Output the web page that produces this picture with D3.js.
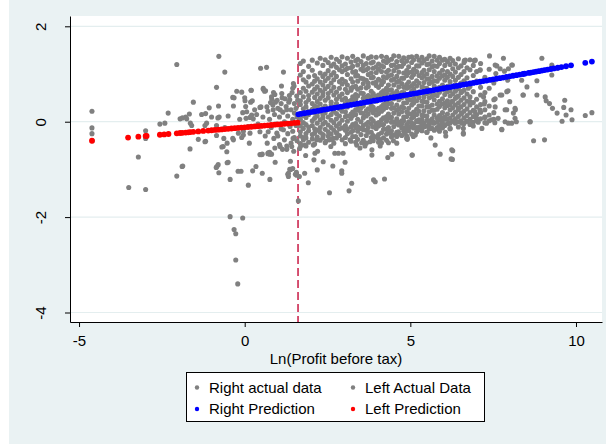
<!DOCTYPE html>
<html><head><meta charset="utf-8">
<script src="https://cdn.jsdelivr.net/npm/d3@7"></script>
<style>body{margin:0;background:#fff}svg{display:block}</style>
</head><body><svg id="c" width="606" height="444"></svg>
<script>
const xTicks=[-5,0,5,10];
const yTicks=[-4,-2,0,2];
const xTitle="Ln(Profit before tax)";
const cutoff=1.61;
const legendLabels=["Right actual data","Left Actual Data","Right Prediction","Left Prediction"];

// Left actual data (x < cutoff)
const leftActual=[
[-4.61,0.22],[-4.61,-0.13],[-4.61,-0.25],[-4.6,-0.40],
[-3.50,-1.38],[-3.21,-0.74],[-2.99,-0.19],[-2.99,-0.35],[-2.99,-1.42],
[-2.56,-0.05],[-2.41,-0.03],[-2.31,0.18],
[-2.05,1.20],[-2.05,-1.14],[-1.89,-0.94],[-1.88,0.08],[-1.78,0.10],[-1.67,0.16],[-1.64,-0.03],[-1.65,-0.57],[-1.55,0.41],[-1.40,-0.37],[-1.95,0.06],[-1.75,0.06],
[-1.18,0.17],[-1.15,-0.03],[-1.07,0.29],[-1.18,-0.41],[-1.2,-0.42],[-0.85,0.72],[-0.78,1.37],[-0.60,1.04],[-0.79,0.33],[-0.81,0.08],[-0.77,0.10],[-0.85,-0.29],[-0.63,-0.35],[-0.69,-0.53],[-0.53,-0.45],[-0.54,-0.63],[-0.36,-0.35],
[-0.84,-0.94],[-0.86,-0.96],[-0.80,-0.90],[-0.78,-1.07],[-0.53,-0.86],[-0.50,-0.85],[-0.44,-1.21],
[-0.32,0.50],[-0.24,0.64],[-0.09,0.62],[0.0,0.50],[0.19,0.66],[-0.34,0.33],[0.03,0.32],[-0.06,0.19],[0.04,0.07],[0.16,0.09],[0.26,0.06],[0.36,0.15],[0.46,0.30],
[0.48,1.12],[0.66,1.14],[1.17,1.04],[1.11,0.75],[1.47,0.80],[1.45,0.70],[0.56,0.68],[0.60,0.64],[0.87,0.61],[0.81,0.52],[1.13,0.50],[0.93,0.41],[1.33,0.41],[1.57,0.54],[0.23,0.44],
[-0.19,-0.24],[-0.04,-0.20],[-0.09,-0.33],[0.14,-0.45],[0.51,-0.69],[0.75,-0.64],[0.81,-0.68],[0.91,-0.55],[1.14,-0.58],[1.38,-0.83],
[-0.2,-1.04],[-0.11,-1.04],[0.11,-1.33],[0.24,-1.03],[0.34,-0.94],[0.53,-0.68],[0.53,-1.08],[0.70,-0.67],[0.76,-1.21],[0.92,-0.85],[1.32,-1.15],[1.32,-1.08],[1.39,-1.00],[1.53,-1.10],[1.45,-0.98],[1.57,-1.12],
[-0.44,-1.99],[-0.06,-2.02],[-0.32,-2.26],[-0.27,-2.35],[-0.27,-2.90],[-0.21,-3.40],[-1.87,-0.93],
[-0.36,0.51],[0.01,0.44],[0.18,0.41],[0.2,0.66],[0.56,0.70],[0.63,0.65],[0.82,0.47],[0.91,0.57],[1.12,0.59],[1.36,0.46],[1.43,0.61],[1.49,0.75],
[-1.6,-0.08],[-1.2,-0.08],[-0.85,-0.08],
[-0.65,-0.52],[-0.34,-0.38],[-0.04,-0.28],[0.16,-0.24],[0.46,-0.21],[0.71,-0.21],[0.97,-0.24],[1.17,-0.17],[1.37,-0.10],
[0.06,0.21],[0.21,0.14],[0.49,0.31],[0.67,0.31],[0.86,0.25],[1.07,0.25],[1.27,0.25],
[0.46,-0.69],[0.71,-0.65],[0.76,-0.68],[1.07,-0.52],[1.27,-0.51],[1.42,-0.52],[1.36,-1.0],[1.30,-1.1],[1.56,-1.06],
[0.7,0.22],[0.75,0.05],[0.8,-0.12],[0.85,0.35],[0.9,0.15],[0.95,-0.05],[1.0,0.28],[1.0,-0.3],[1.05,0.10],[1.1,-0.15],[1.1,0.38],[1.15,0.2],[1.2,0.0],[1.2,-0.38],[1.25,0.32],[1.3,0.12],[1.3,-0.25],[1.35,-0.05],[1.4,0.25],[1.4,-0.45],[1.45,0.05],[1.45,-0.2],[1.5,0.38],[1.5,0.18],[1.5,-0.33],[1.55,-0.08],[1.55,0.28],[1.58,0.1],[1.58,-0.4],[1.6,0.45],
[0.62,-0.3],[0.68,-0.45],[0.88,-0.35],[0.98,0.45],[1.22,0.48],[1.35,0.55],[1.05,-0.48],[0.78,0.4],[1.27,-0.58],[1.48,-0.62],[0.55,0.1],[0.4,-0.05],[0.3,0.25],[0.1,-0.1],[-0.15,0.05],[-0.5,0.12],[-0.6,-0.12],[-1.0,0.1],[-1.3,0.15],
[1.46,-0.35]
];

// Right actual data: scattered points (x > cutoff)
const rightSparse=[
[1.62,-1.66],[1.65,-1.15],[1.81,-1.08],[1.92,-1.28],[2.19,-1.01],[2.56,-1.49],[2.93,-1.03],[2.93,-1.08],[2.66,-0.93],[2.37,-0.84],[2.09,-0.80],[1.84,-0.71],[3.03,-0.85],[3.23,-1.29],[3.15,-1.45],[3.89,-1.22],[3.94,-1.26],[4.22,-1.20],[4.32,-0.75],[4.44,-0.68],[5.05,-0.70],[4.91,-0.37],[3.84,-0.59],[3.84,-0.70],[4.09,-0.51],[4.04,-0.43],[4.59,-0.45],[4.49,-0.40],[3.63,-0.51],[3.48,-0.55],[2.97,-0.66],[2.83,-0.66],[2.72,-0.66],[2.45,-0.41],[2.55,-0.38],[2.60,-0.52],[2.12,-0.66],[2.2,-0.62],[1.85,-0.51],[2.07,-0.49],[1.70,-0.50],[1.66,-0.56],[1.76,-0.33],
[4.89,-0.35],[5.09,-0.31],[4.39,-0.24],[3.88,-0.31],[4.08,-0.38],[3.38,-0.49],[3.53,-0.44],[3.18,-0.38],[2.67,-0.35],[2.78,-0.24],[2.37,-0.28],[2.17,-0.38],[3.78,-0.42],[4.34,-0.44],[4.84,-0.24],[4.64,-0.21],[1.82,-0.49],
[5.15,-0.28],[5.5,-0.22],[5.62,-0.34],[5.75,-0.49],[5.90,-0.68],[6.06,-0.22],[6.07,-0.30],[6.28,-0.61],[6.23,-0.78],[6.6,-0.26],[6.6,-0.14],[7.16,-0.14],[7.76,-0.17],[8.62,0.0],[8.72,-0.40],[9.05,-0.38],[5.85,-0.17],[5.3,-0.1],[5.45,-0.09],[4.91,-0.34],[5.06,-0.70],
[7.39,1.38],[7.81,1.33],[8.97,1.33],[6.66,1.29],[6.96,1.29],[7.11,1.09],[7.71,1.11],[7.96,1.11],[7.61,1.17],[8.08,1.19],[9.27,1.19],[9.43,1.12],[9.27,0.98],[8.82,0.86],[7.94,0.87],[8.52,0.73],[7.95,0.65],[7.71,0.56],[7.56,0.48],[7.21,0.52],[8.4,0.56],[8.82,0.56],[9.07,0.52],[9.1,0.44],[9.2,0.38],[9.66,0.45],[9.29,0.28],[9.43,0.18],[9.63,0.30],[9.85,0.25],[9.70,0.14],[9.58,0.01],[9.88,0.04],[10.28,0.13],[10.48,0.19],[8.17,0.25],[7.91,0.25],[8.2,0.0],[7.96,-0.03],[7.76,-0.16],[6.6,-0.24],[6.25,-0.59],[6.27,-0.79],
[6.63,1.28],[6.93,1.28],[7.56,1.19],[8.06,1.19],[7.1,1.08],[7.58,1.01],[7.84,1.06],[8.36,0.87],[8.41,0.56],[7.91,0.63],[7.76,0.56],[7.23,0.37],[7.1,0.25],[7.56,0.31],[7.86,0.25],[8.0,0.42],[8.16,0.28],[8.11,0.18],[6.8,0.42],[6.45,0.28],[6.55,0.18],
[6.95,0.21],[7.0,0.07],[7.25,0.10],[7.45,0.04],[7.65,0.07],[7.86,0.0],[8.06,-0.03],[8.16,0.07],[8.61,0.0],[6.65,0.8],[6.75,0.7],[6.55,0.63],[6.4,0.52],[6.25,0.42],[6.35,0.77],
[5.2,0.0],[5.35,-0.02],[5.55,0.01],[5.7,-0.03],[5.95,0.0],[6.15,-0.04],[6.35,-0.01],[6.55,-0.03],[6.7,0.01],[6.85,-0.02],[7.05,-0.01],[7.3,-0.03],[7.55,-0.02],[5.25,-0.12],[5.6,-0.13],[5.9,-0.1],[6.2,-0.14],[6.45,-0.11],[6.9,-0.09]
];

// Right actual data: dense part, listed per x column
const rightCols=[
[1.68,[1.22,0.98,0.61,0.44,0.36,0.17,0.05,-0.09,-0.21,-0.30,-0.46]],
[1.77,[1.27,1.05,0.88,0.70,0.52,0.27,0.13,-0.02,-0.14,-0.38]],
[1.85,[0.83,0.64,0.40,0.31,0.09,-0.06,-0.25,-0.34]],
[1.93,[1.16,0.94,0.75,0.55,0.46,0.22,0.15,-0.11,-0.19,-0.43]],
[2.04,[1.29,1.08,0.79,0.62,0.38,0.26,0.02,-0.08,-0.27,-0.36]],
[2.11,[0.97,0.85,0.68,0.51,0.33,0.18,0.07,-0.15,-0.24,-0.47]],
[2.19,[1.23,0.90,0.73,0.58,0.42,0.31,0.12,-0.03,-0.18,-0.32]],
[2.28,[1.33,1.02,0.83,0.66,0.49,0.37,0.21,0.04,-0.12,-0.22,-0.39]],
[2.36,[1.18,0.95,0.77,0.61,0.55,0.28,0.14,0.08,-0.05,-0.27,-0.33]],
[2.43,[1.30,1.00,0.86,0.69,0.45,0.33,0.19,-0.01,-0.16,-0.44]],
[2.52,[1.24,1.07,0.91,0.74,0.59,0.50,0.26,0.10,-0.07,-0.21,-0.30]],
[2.61,[1.35,1.17,0.98,0.81,0.65,0.41,0.35,0.15,0.03,-0.12,-0.26,-0.37]],
[2.69,[1.21,1.03,0.88,0.72,0.56,0.30,0.22,-0.02,-0.18,-0.45]],
[2.77,[1.31,1.14,0.95,0.62,0.47,0.38,0.17,0.06,-0.09,-0.23,-0.34]],
[2.86,[1.26,1.09,0.84,0.70,0.53,0.27,0.12,-0.04,-0.15,-0.29]],
[2.94,[1.36,1.17,1.05,0.89,0.79,0.58,0.46,0.29,0.22,0.03,-0.13,-0.38]],
[3.04,[1.21,1.09,0.84,0.68,0.49,0.38,0.21,0.11,-0.08,-0.18,-0.33,-0.46]],
[3.10,[1.33,1.12,0.99,0.77,0.61,0.43,0.31,0.12,0.01,-0.15,-0.25]],
[3.21,[1.25,1.13,0.90,0.70,0.66,0.45,0.36,0.16,0.07,-0.11,-0.22,-0.41]],
[3.26,[1.37,1.16,1.04,0.83,0.72,0.52,0.41,0.20,0.13,-0.06,-0.19,-0.31]],
[3.35,[1.28,1.05,0.96,0.74,0.57,0.47,0.25,0.15,-0.04,-0.12,-0.31,-0.43]],
[3.41,[1.31,1.19,0.97,0.85,0.68,0.54,0.34,0.24,0.05,-0.10,-0.20,-0.37]],
[3.51,[1.26,1.10,0.91,0.71,0.60,0.39,0.29,0.19,0.00,-0.14,-0.27]],
[3.58,[1.38,1.18,1.07,0.90,0.80,0.59,0.49,0.33,0.17,0.08,-0.08,-0.17,-0.39]],
[3.67,[1.22,1.09,0.87,0.71,0.51,0.42,0.23,0.12,-0.05,-0.18,-0.29,-0.45]],
[3.73,[1.33,1.12,0.99,0.81,0.74,0.55,0.46,0.27,0.16,-0.01,-0.12,-0.22]],
[3.82,[1.36,1.23,1.02,0.92,0.64,0.52,0.34,0.24,0.06,-0.05,-0.22,-0.33]],
[3.88,[1.25,1.12,0.93,0.81,0.59,0.48,0.30,0.19,0.02,-0.11,-0.29,-0.40]],
[3.97,[1.35,1.15,1.03,0.83,0.76,0.53,0.43,0.24,0.14,-0.04,-0.14,-0.32]],
[4.04,[1.21,1.10,0.89,0.72,0.56,0.47,0.28,0.17,-0.02,-0.09,-0.27,-0.36]],
[4.13,[1.37,1.17,1.05,0.85,0.78,0.61,0.51,0.32,0.22,0.04,-0.06,-0.23,-0.44]],
[4.19,[1.27,1.15,0.94,0.84,0.65,0.55,0.36,0.26,0.08,-0.06,-0.16,-0.34]],
[4.28,[1.35,1.24,1.04,0.92,0.70,0.59,0.41,0.30,0.11,0.01,-0.16,-0.26,-0.39]],
[4.34,[1.28,1.08,0.96,0.77,0.66,0.48,0.38,0.16,0.07,-0.12,-0.21]],
[4.43,[1.31,1.18,0.98,0.87,0.67,0.57,0.38,0.28,0.09,-0.01,-0.19,-0.32]],
[4.50,[1.38,1.19,1.07,0.89,0.77,0.59,0.48,0.29,0.18,0.00,-0.10,-0.28]],
[4.59,[1.26,1.14,0.95,0.83,0.64,0.54,0.35,0.24,0.06,-0.04,-0.22,-0.31]],
[4.65,[1.37,1.16,1.04,0.85,0.73,0.56,0.46,0.27,0.16,-0.01,-0.07,-0.26]],
[4.74,[1.28,1.16,0.91,0.80,0.61,0.50,0.31,0.21,0.02,-0.04,-0.13,-0.29]],
[4.80,[1.34,1.22,1.02,0.91,0.72,0.61,0.39,0.29,0.10,0.02,-0.13,-0.20]],
[4.89,[1.27,1.07,0.97,0.78,0.70,0.51,0.40,0.21,0.11,-0.06,-0.15,-0.30]],
[4.95,[1.35,1.15,1.03,0.83,0.72,0.54,0.46,0.28,0.17,0.00,-0.10,-0.19]],
[5.04,[1.36,1.24,1.04,0.93,0.75,0.64,0.45,0.35,0.16,0.07,-0.03,-0.11,-0.26]],
[5.10,[1.30,1.10,0.99,0.80,0.68,0.49,0.39,0.20,0.10,-0.05,-0.13]],
[5.19,[1.37,1.17,1.05,0.86,0.75,0.56,0.44,0.26,0.15,0.02,-0.12,-0.21]],
[5.26,[1.29,1.17,0.97,0.81,0.62,0.51,0.33,0.22,0.04,0.00,-0.17]],
[5.35,[1.35,1.23,1.03,0.92,0.73,0.62,0.43,0.33,0.14,0.05,-0.10,-0.19]],
[5.41,[1.28,1.08,0.96,0.82,0.71,0.52,0.42,0.23,0.13,-0.03,-0.11]],
[5.50,[1.32,1.20,1.00,0.89,0.70,0.59,0.41,0.31,0.12,0.03,-0.09,-0.22]],
[5.57,[1.38,1.21,1.09,0.90,0.80,0.61,0.50,0.32,0.21,0.02,-0.06,-0.15]],
[5.66,[1.27,1.15,0.95,0.83,0.64,0.53,0.35,0.24,0.06,0.00,-0.14]],
[5.72,[1.37,1.17,1.05,0.86,0.75,0.57,0.46,0.24,0.14,-0.02,-0.18]],
[5.81,[1.29,1.16,0.96,0.85,0.66,0.55,0.37,0.26,0.08,-0.01,-0.12]],
[5.88,[1.35,1.22,1.02,0.91,0.72,0.62,0.43,0.32,0.13,0.04,-0.08,-0.20]],
[5.97,[1.29,1.08,0.96,0.77,0.67,0.48,0.37,0.19,0.08,-0.03,-0.13]],
[6.04,[1.31,1.18,0.98,0.87,0.68,0.57,0.39,0.29,0.10,0.05,-0.08]],
[6.12,[1.26,1.05,0.93,0.74,0.63,0.44,0.34,0.16,0.06,-0.04]],
[6.20,[1.33,1.20,1.00,0.84,0.65,0.54,0.36,0.25,0.07,-0.03,-0.15]],
[6.28,[1.28,1.11,0.95,0.73,0.58,0.43,0.29,0.14,0.01]],
[6.36,[1.21,1.04,0.87,0.64,0.49,0.35,0.20,0.06,-0.03]],
[6.45,[1.32,1.13,0.93,0.69,0.54,0.39,0.25,0.11,0.00]],
[6.53,[1.17,0.99,0.81,0.61,0.45,0.31,0.16,0.02]],
[6.62,[1.24,1.05,0.86,0.66,0.50,0.36,0.22,0.08,-0.04]],
[6.71,[1.13,0.92,0.58,0.43,0.27,0.13,0.01]],
[6.80,[1.30,1.09,0.74,0.52,0.35,0.19,0.05,-0.06]],
[6.90,[1.18,0.97,0.63,0.40,0.24,0.11,-0.01]],
[7.00,[1.05,0.85,0.47,0.31,0.15,0.03]],
[7.12,[1.22,0.72,0.56,0.36,0.20,0.06]],
[7.25,[0.93,0.61,0.42,0.25,0.09,-0.02]],
[7.38,[1.10,0.70,0.33,0.14,0.02]],
[7.52,[0.81,0.46,0.19,0.05]]
];

// Fitted values
const rightPred=[
[1.62,0.155],[1.7,0.165],[1.8,0.177],[1.9,0.190],[2.0,0.202],[2.1,0.215],[2.2,0.227],[2.3,0.240],[2.4,0.252],[2.5,0.265],[2.6,0.277],[2.7,0.290],[2.8,0.302],[2.9,0.315],[3.0,0.327],[3.1,0.340],[3.2,0.352],[3.3,0.365],[3.4,0.377],[3.5,0.389],[3.6,0.402],[3.7,0.414],[3.8,0.427],[3.9,0.439],[4.0,0.452],[4.1,0.464],[4.2,0.477],[4.3,0.489],[4.4,0.502],[4.5,0.514],[4.6,0.527],[4.7,0.539],[4.8,0.552],[4.9,0.564],[5.0,0.577],[5.1,0.589],[5.2,0.601],[5.3,0.614],[5.4,0.626],[5.5,0.639],[5.6,0.651],[5.7,0.664],[5.8,0.676],[5.9,0.689],[6.0,0.701],[6.1,0.714],[6.2,0.726],[6.3,0.739],[6.4,0.751],[6.5,0.764],[6.6,0.776],[6.7,0.788],[6.8,0.801],[6.9,0.813],[7.0,0.826],[7.1,0.838],[7.2,0.851],[7.3,0.863],[7.4,0.876],[7.5,0.888],[7.6,0.901],[7.7,0.913],[7.8,0.926],[7.9,0.938],[8.0,0.951],[8.1,0.963],[8.2,0.976],[8.3,0.988],[8.4,1.000],[8.45,1.007],
[8.57,1.022],[8.64,1.030],[8.72,1.040],[8.80,1.050],[8.88,1.060],[8.97,1.072],[9.05,1.082],[9.14,1.093],[9.24,1.105],[9.33,1.116],[9.45,1.131],[9.56,1.145],[9.70,1.163],[9.85,1.181],[10.28,1.235],[10.48,1.260]
];
const leftPred=[
[-4.61,-0.399],[-3.52,-0.333],[-3.21,-0.314],[-2.99,-0.300],[-2.96,-0.299],[-2.56,-0.274],[-2.43,-0.266],[-2.30,-0.258],[-2.05,-0.243],[-1.95,-0.237],[-1.88,-0.233],[-1.78,-0.227],[-1.70,-0.222],[-1.64,-0.218],[-1.55,-0.213],[-1.40,-0.203],[-1.25,-0.194],
[-1.1,-0.185],[-1.0,-0.179],[-0.9,-0.173],[-0.8,-0.167],[-0.7,-0.161],[-0.6,-0.155],[-0.5,-0.149],[-0.4,-0.142],[-0.3,-0.136],[-0.2,-0.130],[-0.1,-0.124],[0.0,-0.118],[0.1,-0.112],[0.2,-0.106],[0.3,-0.100],[0.4,-0.094],[0.5,-0.088],[0.6,-0.081],[0.7,-0.075],[0.8,-0.069],[0.9,-0.063],[1.0,-0.057],[1.1,-0.051],[1.2,-0.045],[1.3,-0.039],[1.4,-0.033],[1.5,-0.026],[1.6,-0.020]
];

const rightActual=rightSparse.concat(rightCols.flatMap(([cx,ys])=>ys.map(v=>[cx,v])));

const FONT="'Liberation Sans', Arial, Helvetica, sans-serif";
const BG="#EAF2F3", GRAY="#808080", BLUE="#0000FF", RED="#FF0000";
const W=606,H=444;
const svg=d3.select("#c");
svg.append("rect").attr("width",W).attr("height",H).attr("fill","#fff");
svg.append("rect").attr("x",9).attr("y",0).attr("width",W-9).attr("height",H).attr("fill",BG);

const x=d3.scaleLinear().domain([-5.273,10.785]).range([70,602]);
const y=d3.scaleLinear().domain([-4.199,2.216]).range([322,16]);

svg.append("rect").attr("x",70).attr("y",16).attr("width",532).attr("height",306).attr("fill","#fff");
svg.append("g").selectAll("line").data(yTicks).join("line")
  .attr("x1",70).attr("x2",602).attr("y1",d=>y(d)).attr("y2",d=>y(d))
  .attr("stroke","#e4eeef").attr("stroke-width",1.2);

svg.append("line").attr("x1",x(cutoff)).attr("x2",x(cutoff)).attr("y1",16).attr("y2",322)
  .attr("stroke","#c81a44").attr("stroke-width",1.5).attr("stroke-dasharray","8,4");

function dots(data,color,r){
  svg.append("g").selectAll("circle").data(data).join("circle")
    .attr("cx",d=>x(d[0])).attr("cy",d=>y(d[1])).attr("r",r).attr("fill",color);
}
dots(rightActual,GRAY,2.55);
dots(leftActual,GRAY,2.55);
dots(rightPred,BLUE,2.9);
dots(leftPred,RED,2.9);

const gx=svg.append("g").attr("transform","translate(0,322)")
  .call(d3.axisBottom(x).tickValues(xTicks).tickSize(5).tickSizeOuter(0).tickPadding(8).tickFormat(d=>String(d)));
gx.attr("font-size",15).attr("font-family",FONT);
gx.selectAll("path,line").attr("stroke","#000");
gx.selectAll("text").attr("fill","#000");

const gy=svg.append("g").attr("transform","translate(70,0)")
  .call(d3.axisLeft(y).tickValues(yTicks).tickSize(5).tickSizeOuter(0).tickFormat(d=>String(d)));
gy.attr("font-size",15).attr("font-family",FONT);
gy.selectAll("path,line").attr("stroke","#000");
gy.selectAll("text").attr("fill","#000").attr("x",0).attr("y",-24).attr("dy",0)
  .attr("text-anchor","middle").attr("transform","rotate(-90)");

svg.append("text").attr("x",336).attr("y",364).attr("text-anchor","middle")
  .attr("font-size",15).attr("font-family",FONT).attr("fill","#000").text(xTitle);

// legend
const lg=svg.append("g");
lg.append("rect").attr("x",186.5).attr("y",372.5).attr("width",298).attr("height",49)
  .attr("fill","#fff").attr("stroke","#000").attr("stroke-width",1);
const legColors=[GRAY,GRAY,BLUE,RED];
const legPos=[[197,387.5],[353,387.5],[197,409],[353,409]];
legendLabels.forEach((t,i)=>{
  lg.append("circle").attr("cx",legPos[i][0]).attr("cy",legPos[i][1]).attr("r",2.2).attr("fill",legColors[i]);
  lg.append("text").attr("x",legPos[i][0]+12).attr("y",legPos[i][1]+5).attr("font-size",15)
    .attr("font-family",FONT).attr("fill","#000").text(t);
});
</script></body></html>
